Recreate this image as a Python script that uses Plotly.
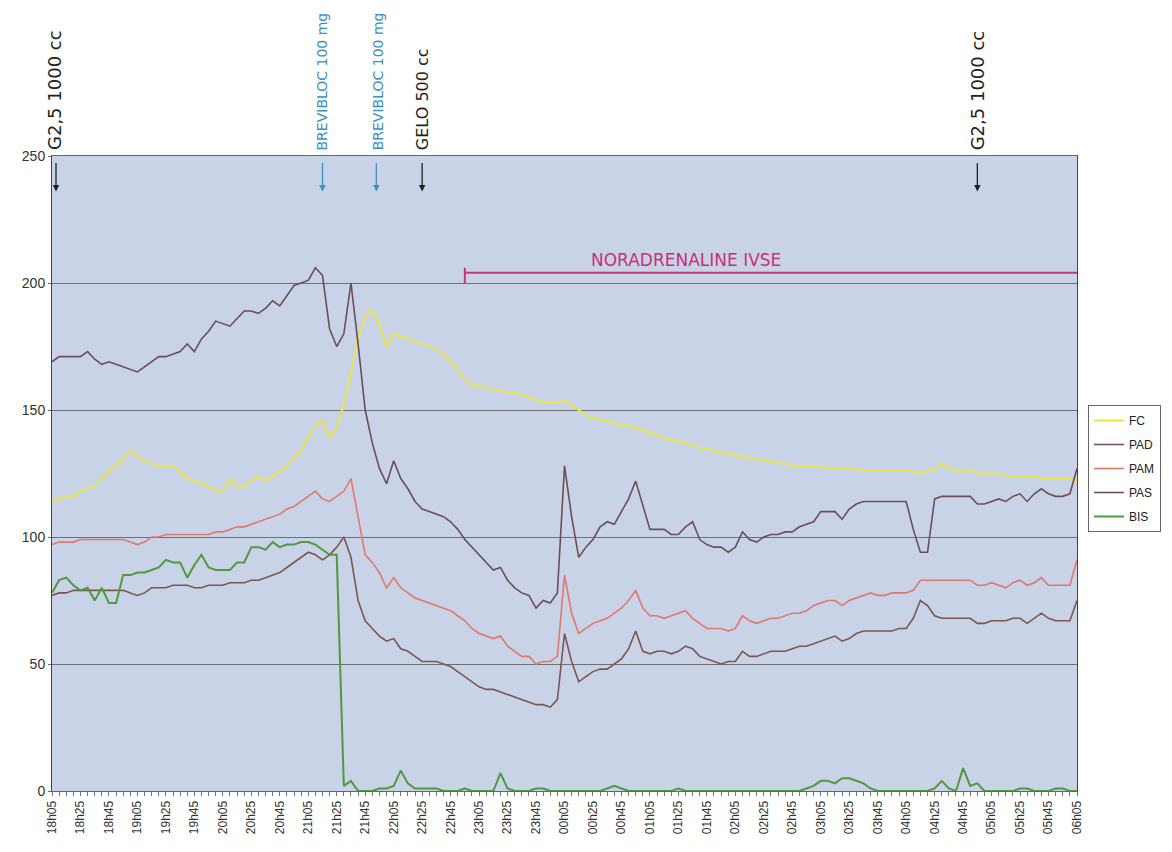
import plotly.graph_objects as go

# ---- categories (5-minute samples from 18h05 to 06h05) ----
times = []
for k in range(145):
    tot = 18 * 60 + 5 + 5 * k
    times.append(f"{(tot // 60) % 24:02d}h{tot % 60:02d}")
tick_labels = [t if k % 4 == 0 else "" for k, t in enumerate(times)]

# ---- series values ----
fc = [114, 115, 116, 116, 118, 119, 120, 123, 126, 128, 131, 134, 132, 130, 129, 128, 128, 128, 126, 123,
      122, 121, 120, 118, 118, 123, 120, 120, 122, 124, 122, 124, 126, 128, 131, 134, 139, 144, 146, 139,
      143, 152, 165, 178, 187, 189, 184, 175, 180, 179, 178, 177, 176, 175, 174, 172, 169, 166, 162, 160,
      159, 159, 158, 158, 157, 157, 156, 155, 154, 153, 153, 153, 154, 152, 150, 148, 147, 146, 146, 145,
      144, 144, 143, 142, 141, 140, 139, 138, 138, 137, 136, 135, 135, 134, 133, 133, 132, 132, 131, 131,
      130, 130, 129, 129, 128, 128, 128, 128, 128, 127, 127, 127, 127, 127, 126, 126, 126, 126, 126, 126,
      126, 126, 125, 126, 126, 129, 127, 126, 126, 126, 125, 125, 125, 125, 124, 124, 124, 124, 124, 123,
      123, 123, 123, 123, 122]

pad = [77, 78, 78, 79, 79, 79, 79, 79, 79, 79, 79, 78, 77, 78, 80, 80, 80, 81, 81, 81,
       80, 80, 81, 81, 81, 82, 82, 82, 83, 83, 84, 85, 86, 88, 90, 92, 94, 93, 91, 93,
       96, 100, 92, 75, 67, 64, 61, 59, 60, 56, 55, 53, 51, 51, 51, 50, 49, 47, 45, 43,
       41, 40, 40, 39, 38, 37, 36, 35, 34, 34, 33, 36, 62, 51, 43, 45, 47, 48, 48, 50,
       52, 56, 63, 55, 54, 55, 55, 54, 55, 57, 56, 53, 52, 51, 50, 51, 51, 55, 53, 53,
       54, 55, 55, 55, 56, 57, 57, 58, 59, 60, 61, 59, 60, 62, 63, 63, 63, 63, 63, 64,
       64, 68, 75, 73, 69, 68, 68, 68, 68, 68, 66, 66, 67, 67, 67, 68, 68, 66, 68, 70,
       68, 67, 67, 67, 75]

pam = [97, 98, 98, 98, 99, 99, 99, 99, 99, 99, 99, 98, 97, 98, 100, 100, 101, 101, 101, 101,
       101, 101, 101, 102, 102, 103, 104, 104, 105, 106, 107, 108, 109, 111, 112, 114, 116, 118, 115, 114,
       116, 118, 123, 108, 93, 90, 86, 80, 84, 80, 78, 76, 75, 74, 73, 72, 71, 69, 67, 64,
       62, 61, 60, 61, 57, 55, 53, 53, 50, 51, 51, 53, 85, 70, 62, 64, 66, 67, 68, 70,
       72, 75, 79, 72, 69, 69, 68, 69, 70, 71, 68, 66, 64, 64, 64, 63, 64, 69, 67, 66,
       67, 68, 68, 69, 70, 70, 71, 73, 74, 75, 75, 73, 75, 76, 77, 78, 77, 77, 78, 78,
       78, 79, 83, 83, 83, 83, 83, 83, 83, 83, 81, 81, 82, 81, 80, 82, 83, 81, 82, 84,
       81, 81, 81, 81, 91]

pas = [169, 171, 171, 171, 171, 173, 170, 168, 169, 168, 167, 166, 165, 167, 169, 171, 171, 172, 173, 176,
       173, 178, 181, 185, 184, 183, 186, 189, 189, 188, 190, 193, 191, 195, 199, 200, 201, 206, 203, 182,
       175, 180, 200, 176, 150, 137, 127, 121, 130, 123, 119, 114, 111, 110, 109, 108, 106, 103, 99, 96,
       93, 90, 87, 88, 83, 80, 78, 77, 72, 75, 74, 78, 128, 108, 92, 96, 99, 104, 106, 105,
       110, 115, 122, 112, 103, 103, 103, 101, 101, 104, 106, 99, 97, 96, 96, 94, 96, 102, 99, 98,
       100, 101, 101, 102, 102, 104, 105, 106, 110, 110, 110, 107, 111, 113, 114, 114, 114, 114, 114, 114,
       114, 103, 94, 94, 115, 116, 116, 116, 116, 116, 113, 113, 114, 115, 114, 116, 117, 114, 117, 119,
       117, 116, 116, 117, 127]

bis = [78, 83, 84, 81, 79, 80, 75, 80, 74, 74, 85, 85, 86, 86, 87, 88, 91, 90, 90, 84,
       89, 93, 88, 87, 87, 87, 90, 90, 96, 96, 95, 98, 96, 97, 97, 98, 98, 97, 95, 93,
       93, 2, 4, 0, 0, 0, 1, 1, 2, 8, 3, 1, 1, 1, 1, 0, 0, 0, 1, 0,
       0, 0, 0, 7, 1, 0, 0, 0, 1, 1, 0, 0, 0, 0, 0, 0, 0, 0, 1, 2,
       1, 0, 0, 0, 0, 0, 0, 0, 1, 0, 0, 0, 0, 0, 0, 0, 0, 0, 0, 0,
       0, 0, 0, 0, 0, 0, 1, 2, 4, 4, 3, 5, 5, 4, 3, 1, 0, 0, 0, 0,
       0, 0, 0, 0, 1, 4, 1, 0, 9, 2, 3, 0, 0, 0, 0, 0, 1, 1, 0, 0,
       0, 1, 1, 0, 0]

series_names = ["FC", "PAD", "PAM", "PAS", "BIS"]
series_values = [fc, pad, pam, pas, bis]

# ---- handwritten events ----
event_times = ["18h05", "21h15", "21h50", "22h25", "04h55"]
event_labels = ["G2,5 1000 cc", "BREVIBLOC 100 mg", "BREVIBLOC 100 mg", "GELO 500 cc", "G2,5 1000 cc"]
infusion_start, infusion_end = "22h55", "06h05"
infusion_label = "NORADRENALINE IVSE"
infusion_label_at = "01h30"

# ---- styles ----
colors = {"FC": "#ece24e", "PAD": "#7d5650", "PAM": "#e2786a", "PAS": "#6e4c5c", "BIS": "#4f9a3c"}
widths = {"FC": 2, "PAD": 1.6, "PAM": 1.6, "PAS": 1.6, "BIS": 2}
event_colors = ["#222222", "#3d8fc4", "#3d8fc4", "#222222", "#222222"]
event_sizes = [18, 14, 14, 16, 18]
event_xshift = [4, 0, 4, 0, 0]
text_xshift = [2, 0, 6, 0, 0]

# page body has an 8px margin: figure is sized to fit the 1172x852 window
W, H = 1156, 836

fig = go.Figure()
for name, vals in zip(series_names, series_values):
    fig.add_trace(go.Scatter(
        x=times, y=vals, mode="lines", name=name, legendgroup=name,
        line=dict(color=colors[name], width=widths[name]),
    ))

annotations = []
for t, lab, col, sz, xs, ts in zip(event_times, event_labels, event_colors, event_sizes,
                                   event_xshift, text_xshift):
    annotations.append(dict(
        x=t, y=236, xref="x", yref="y", text="", showarrow=True,
        ax=0, ay=-30, arrowhead=2, arrowsize=1, arrowwidth=1.3, arrowcolor=col, xshift=xs,
    ))
    annotations.append(dict(
        x=t, y=1, xref="x", yref="paper", text=lab, showarrow=False, textangle=-90,
        xanchor="center", yanchor="bottom", yshift=4, xshift=ts,
        font=dict(family="DejaVu Sans", size=sz, color=col),
    ))
annotations.append(dict(
    x=infusion_label_at, y=204, xref="x", yref="y", text=infusion_label, showarrow=False,
    yanchor="bottom", yshift=1, font=dict(family="DejaVu Sans", size=17, color="#c4307c"),
))

shapes = [
    dict(type="line", xref="x", yref="y", x0=infusion_start, x1=infusion_end, y0=204, y1=204,
         line=dict(color="#c8367e", width=2)),
    dict(type="line", xref="x", yref="y", x0=infusion_start, x1=infusion_start, y0=200, y1=206,
         line=dict(color="#c8367e", width=2)),
]

fig.update_layout(
    width=W, height=H,
    margin=dict(l=44, r=87, t=148, b=53),
    paper_bgcolor="white",
    plot_bgcolor="#c9d3e7",
    showlegend=True,
    legend=dict(
        xref="container", yref="container", x=(1088 - 8) / W, y=1 - (405 - 8) / H,
        xanchor="left", yanchor="top", bgcolor="white", bordercolor="#666666", borderwidth=1,
        font=dict(family="Arial", size=12, color="#222222"), tracegroupgap=5, itemwidth=30,
    ),
    annotations=annotations,
    shapes=shapes,
    xaxis=dict(
        type="category", range=[0, 144], tickmode="array", tickvals=times, ticktext=tick_labels,
        tickangle=-90, ticks="outside", ticklen=4, tickcolor="#777777",
        tickfont=dict(family="Arial", size=12, color="#333333"),
        showgrid=False, showline=True, linecolor="#666666", mirror=True, zeroline=False,
        automargin=False,
    ),
    yaxis=dict(
        range=[0, 250], tickmode="array", tickvals=[0, 50, 100, 150, 200, 250],
        tickfont=dict(family="Arial", size=14, color="#333333"),
        showgrid=True, gridcolor="#6f6f6f", gridwidth=1,
        showline=True, linecolor="#444444", mirror=True, zeroline=False,
        ticks="outside", ticklen=3, tickcolor="#666666", automargin=False,
    ),
)

fig.write_html("out.html")
